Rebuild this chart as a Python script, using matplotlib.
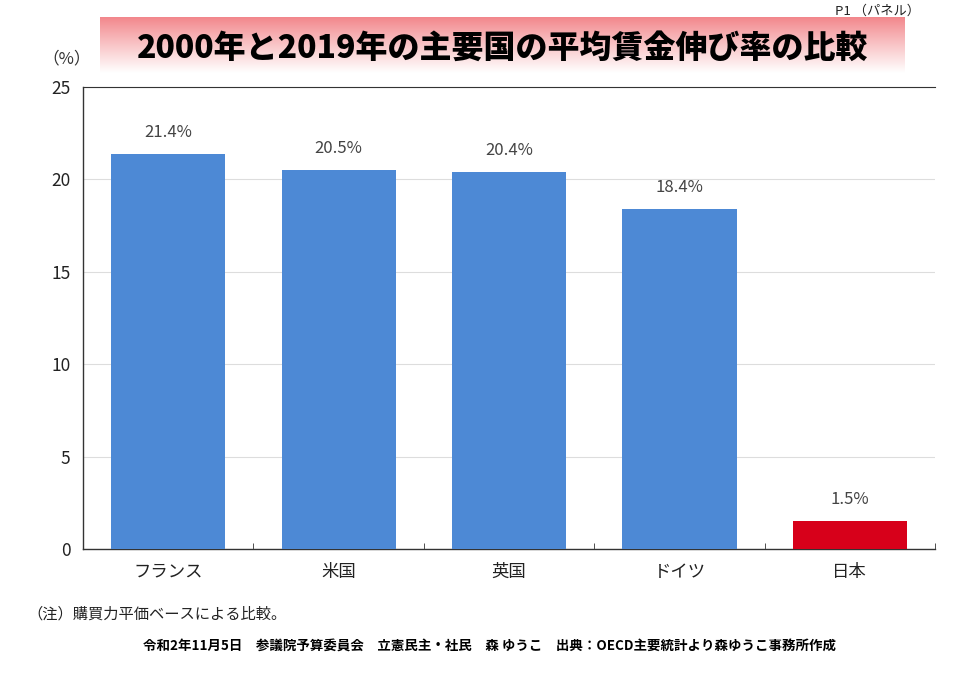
import numpy as np
import matplotlib
matplotlib.use("Agg")
import matplotlib.pyplot as plt

plt.rcParams['font.family'] = ['Noto Sans CJK JP', 'DejaVu Sans']

# data
countries = ['フランス', '米国', '英国', 'ドイツ', '日本']
growth = [21.4, 20.5, 20.4, 18.4, 1.5]
bar_colors = ['#4d89d5', '#4d89d5', '#4d89d5', '#4d89d5', '#d7001a']
yticks = [0, 5, 10, 15, 20, 25]

fig = plt.figure(figsize=(9.6, 6.79), dpi=100)
ax = fig.add_axes([0.0865, 0.1915, 0.8875, 0.6804])

x = np.arange(len(countries))
ax.bar(x, growth, width=0.67, color=bar_colors, zorder=3)
for xi, v in zip(x, growth):
    ax.text(xi, v + 0.7, f'{v:.1f}%', ha='center', va='bottom',
            fontsize=12, color='#444444')

ax.set_xlim(-0.5, len(countries) - 0.5)
ax.set_ylim(0, 25)
ax.set_yticks(yticks)
ax.set_xticks(x)
ax.set_xticklabels(countries, fontsize=12.5, color='#222222')
ax.tick_params(axis='x', length=0, pad=10)
ax.tick_params(axis='y', length=0, labelsize=12.5, labelcolor='#222222', pad=9)
ax.set_xticks(np.arange(len(countries) + 1) - 0.5, minor=True)
ax.tick_params(axis='x', which='minor', length=4, direction='in', color='#333333')
ax.grid(axis='y', color='#dddddd', linewidth=0.8, zorder=0)
ax.spines['right'].set_visible(False)
for s in ['left', 'bottom', 'top']:
    ax.spines[s].set_color('#333333')
    ax.spines[s].set_linewidth(1.0)
ax.spines['top'].set_linewidth(0.8)

fig.text(0.044, 0.913, '（%）', fontsize=12, color='#333333', ha='left', va='center')

# title banner with gradient
bax = fig.add_axes([100 / 960, 1 - 73 / 679, 805 / 960, 56 / 679])
grad = np.linspace(0, 1, 256).reshape(-1, 1)
top = np.array([0.94, 0.45, 0.47])
bottom = np.array([1.0, 1.0, 1.0])
img = top[None, None, :] * (1 - grad[:, :, None]) + bottom[None, None, :] * grad[:, :, None]
img = img ** 0.8
bax.imshow(img, aspect='auto', extent=[0, 1, 0, 1])
bax.set_axis_off()
bax.text(0.5, 0.45, '2000年と2019年の主要国の平均賃金伸び率の比較', ha='center', va='center',
         fontsize=23, fontweight='black', color='black')

fig.text(0.958, 0.983, 'P1 （パネル）', fontsize=9.5, ha='right', va='center', color='#222222')
fig.text(0.028, 0.095, '（注）購買力平価ベースによる比較。', fontsize=11, ha='left', va='center', color='#222222')
fig.text(0.51, 0.048, '令和2年11月5日　参議院予算委員会　立憲民主・社民　森 ゆうこ　出典：OECD主要統計より森ゆうこ事務所作成',
         fontsize=9.7, fontweight='bold', ha='center', va='center', color='black')

fig.savefig('out.png', dpi=100)
